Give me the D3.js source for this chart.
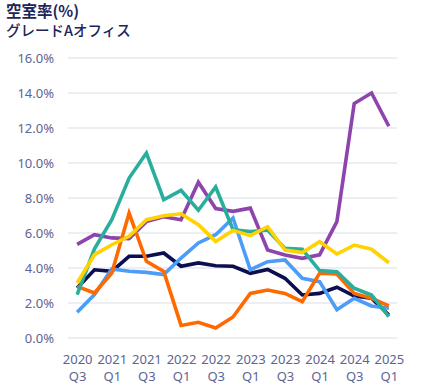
<!DOCTYPE html>
<html>
<head>
<meta charset="utf-8">
<script src="https://cdn.jsdelivr.net/npm/d3@7/dist/d3.min.js"></script>
<style>
  html, body { margin: 0; padding: 0; background: #fff; }
  svg { display: block; font-family: "Noto Sans CJK JP", "Noto Sans", sans-serif; }
</style>
</head>
<body>
<svg id="chart" width="436" height="387"></svg>
<script>
const quarters = ["2020 Q3","2020 Q4","2021 Q1","2021 Q2","2021 Q3","2021 Q4","2022 Q1","2022 Q2","2022 Q3","2022 Q4","2023 Q1","2023 Q2","2023 Q3","2023 Q4","2024 Q1","2024 Q2","2024 Q3","2024 Q4","2025 Q1"];
const yTicks = [0, 2, 4, 6, 8, 10, 12, 14, 16];

const navy   = [2.86, 3.9, 3.81, 4.67, 4.67, 4.86, 4.1, 4.29, 4.13, 4.1, 3.7, 3.92, 3.41, 2.46, 2.55, 2.9, 2.4, 2.27, 1.31];
const blue   = [1.47, 2.48, 3.95, 3.81, 3.75, 3.62, 4.57, 5.43, 5.9, 6.86, 3.9, 4.36, 4.46, 3.41, 3.22, 1.62, 2.27, 1.83, 1.7];
const purple = [5.35, 5.9, 5.72, 5.68, 6.65, 6.93, 6.76, 8.9, 7.4, 7.24, 7.42, 5.03, 4.74, 4.55, 4.75, 6.65, 13.4, 14.0, 12.1];
const teal   = [2.48, 5.1, 6.76, 9.14, 10.57, 7.9, 8.44, 7.3, 8.63, 6.19, 6.08, 6.17, 5.12, 5.07, 3.85, 3.79, 2.84, 2.46, 1.22];
const orange = [2.95, 2.57, 3.71, 7.14, 4.38, 3.8, 0.72, 0.9, 0.57, 1.2, 2.55, 2.74, 2.55, 2.08, 3.7, 3.66, 2.55, 2.27, 1.83];
const yellow = [3.14, 4.76, 5.33, 5.81, 6.76, 6.99, 7.1, 6.48, 5.52, 6.15, 5.85, 6.36, 5.03, 4.88, 5.5, 4.8, 5.31, 5.07, 4.3];

const seriesList = [
  { name: "navy",   values: navy,   color: "#0b0e4f" },
  { name: "blue",   values: blue,   color: "#4d9cf7" },
  { name: "purple", values: purple, color: "#8e44ad" },
  { name: "orange", values: orange, color: "#ff6a00" },
  { name: "teal",   values: teal,   color: "#2aae9c" },
  { name: "yellow", values: yellow, color: "#ffd200" }
];

const svg = d3.select("#chart");
const textColor = "#1d2559";
const axisColor = "#5d6594";

svg.append("text").attr("x", 6).attr("y", 17)
  .attr("font-size", 15.5).attr("font-weight", 700).attr("fill", textColor)
  .text("空室率(%)");
svg.append("text").attr("x", 6).attr("y", 36)
  .attr("font-size", 14.5).attr("font-weight", 500).attr("fill", textColor)
  .text("グレードAオフィス");

const x = d3.scalePoint().domain(quarters).range([68.5, 397.5]).padding(0.5);
const y = d3.scaleLinear().domain([0, 16]).range([338, 58]);

// grid
svg.append("g").selectAll("line").data(yTicks).join("line")
  .attr("x1", 68).attr("x2", 397)
  .attr("y1", d => y(d)).attr("y2", d => y(d))
  .attr("stroke", "#e7e9f1").attr("stroke-width", 1.6);

// y labels
const yAxis = d3.axisLeft(y).tickValues(yTicks).tickFormat(d => d3.format(".1f")(d) + "%").tickSize(0).tickPadding(0);
const gy = svg.append("g").attr("transform", "translate(54,0)").call(yAxis);
gy.select(".domain").remove();
gy.selectAll("text").attr("fill", axisColor).attr("font-size", 13)
  .attr("font-family", "'Noto Sans', sans-serif");

// x labels
const xAxis = d3.axisBottom(x)
  .tickValues(quarters.filter((q, i) => i % 2 === 0))
  .tickSize(0).tickFormat("");
const gx = svg.append("g").attr("transform", "translate(0,338)").call(xAxis);
gx.select(".domain").remove();
gx.selectAll(".tick").each(function(d) {
  const parts = d.split(" ");
  const t = d3.select(this).append("text")
    .attr("fill", axisColor).attr("font-size", 13)
    .attr("font-family", "'Noto Sans', sans-serif")
    .attr("text-anchor", "middle");
  t.append("tspan").attr("x", 0).attr("y", 26).text(parts[0]);
  t.append("tspan").attr("x", 0).attr("y", 43).text(parts[1]);
});

const line = d3.line().x((d, i) => x(quarters[i])).y(d => y(d));
svg.append("g").selectAll("path").data(seriesList).join("path")
  .attr("d", d => line(d.values))
  .attr("fill", "none")
  .attr("stroke", d => d.color)
  .attr("stroke-width", 3.6)
  .attr("stroke-linejoin", "miter")
  .attr("stroke-linecap", "butt");
</script>
</body>
</html>
